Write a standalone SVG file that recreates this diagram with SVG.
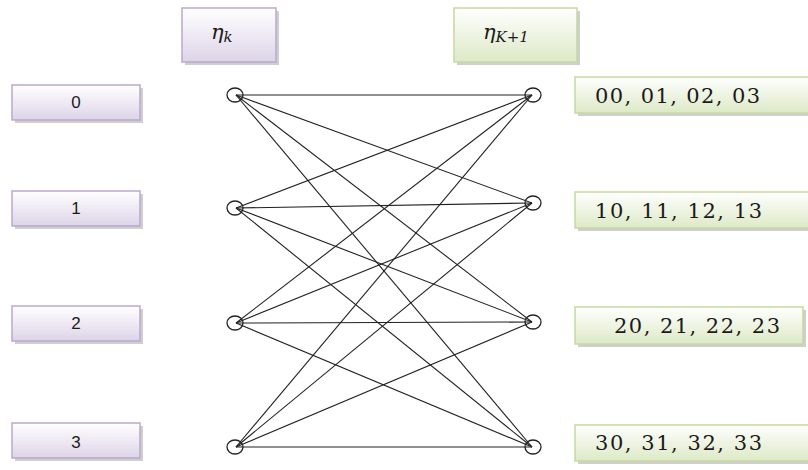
<svg xmlns="http://www.w3.org/2000/svg" width="808" height="470" viewBox="0 0 808 470">
<defs>
<linearGradient id="gp" x1="0" y1="0" x2="0" y2="1"><stop offset="0" stop-color="#ffffff"/><stop offset="1" stop-color="#ddd4e8"/></linearGradient>
<linearGradient id="gg" x1="0" y1="0" x2="0" y2="1"><stop offset="0" stop-color="#ffffff"/><stop offset="1" stop-color="#dde9c6"/></linearGradient>
</defs>
<style>
.p{fill:url(#gp);stroke:#b9a9cf;stroke-width:1.5}
.g{fill:url(#gg);stroke:#c5d9a0;stroke-width:1.5}
.sh{fill:#cfcfcf}
.n{font-family:"Liberation Sans",Arial,sans-serif;font-size:17px;fill:#1a1a1a;text-anchor:middle}
.v{font-family:"DejaVu Serif","Liberation Serif",serif;font-size:21px;fill:#1a1a1a}
.e{font-family:"DejaVu Serif","Liberation Serif",serif;font-style:italic;font-size:21px;fill:#1a1a1a}
.c{fill:none;stroke:#222;stroke-width:1.3}
.l{stroke:#222;stroke-width:1.1}
</style>
<g id="etak"><rect class="sh" x="185" y="11" width="94" height="54"/><rect class="p" x="182" y="8" width="94" height="54"/><text class="e" x="211" y="39">η<tspan font-size="15" dy="3">k</tspan></text></g>
<g id="etak1"><rect class="sh" x="457" y="11" width="123" height="54"/><rect class="g" x="454" y="8" width="123" height="54"/><text class="e" x="483" y="39">η<tspan font-size="15" dy="3">K+1</tspan></text></g>
<g id="L0"><rect class="sh" x="15" y="88" width="128" height="35"/><rect class="p" x="12" y="85" width="128" height="35"/><text class="n" x="76" y="108">0</text></g>
<g id="L1"><rect class="sh" x="15" y="194" width="128" height="35"/><rect class="p" x="12" y="191" width="128" height="35"/><text class="n" x="76" y="214">1</text></g>
<g id="L2"><rect class="sh" x="15" y="309" width="128" height="35"/><rect class="p" x="12" y="306" width="128" height="35"/><text class="n" x="76" y="329">2</text></g>
<g id="L3"><rect class="sh" x="15" y="426" width="128" height="35"/><rect class="p" x="12" y="423" width="128" height="35"/><text class="n" x="76" y="448">3</text></g>
<g id="R0"><rect class="sh" x="578" y="80" width="232" height="36"/><rect class="g" x="575" y="77" width="235" height="36"/><text class="v" x="595" y="103" textLength="165" lengthAdjust="spacing">00, 01, 02, 03</text></g>
<g id="R1"><rect class="sh" x="578" y="195" width="232" height="36"/><rect class="g" x="575" y="192" width="235" height="36"/><text class="v" x="595" y="218" textLength="167" lengthAdjust="spacing">10, 11, 12, 13</text></g>
<g id="R2"><rect class="sh" x="578" y="310" width="228" height="37"/><rect class="g" x="575" y="307" width="228" height="37"/><text class="v" x="614" y="333" textLength="166" lengthAdjust="spacing">20, 21, 22, 23</text></g>
<g id="R3"><rect class="sh" x="578" y="428" width="232" height="36"/><rect class="g" x="575" y="425" width="235" height="36"/><text class="v" x="595" y="450" textLength="167" lengthAdjust="spacing">30, 31, 32, 33</text></g>
<g id="connectors">
<line class="l" x1="236" y1="95" x2="532" y2="95"/><line class="l" x1="236" y1="95" x2="532" y2="203"/><line class="l" x1="236" y1="95" x2="532" y2="322"/><line class="l" x1="236" y1="95" x2="532" y2="447"/>
<line class="l" x1="236" y1="208" x2="532" y2="95"/><line class="l" x1="236" y1="208" x2="532" y2="203"/><line class="l" x1="236" y1="208" x2="532" y2="322"/><line class="l" x1="236" y1="208" x2="532" y2="447"/>
<line class="l" x1="236" y1="323" x2="532" y2="95"/><line class="l" x1="236" y1="323" x2="532" y2="203"/><line class="l" x1="236" y1="323" x2="532" y2="322"/><line class="l" x1="236" y1="323" x2="532" y2="447"/>
<line class="l" x1="236" y1="447" x2="532" y2="95"/><line class="l" x1="236" y1="447" x2="532" y2="203"/><line class="l" x1="236" y1="447" x2="532" y2="322"/><line class="l" x1="236" y1="447" x2="532" y2="447"/>
</g>
<g id="nodesL"><ellipse class="c" cx="235" cy="95" rx="8" ry="7"/><ellipse class="c" cx="235" cy="208" rx="8" ry="7"/><ellipse class="c" cx="235" cy="323" rx="8" ry="7"/><ellipse class="c" cx="235" cy="447" rx="8" ry="7"/></g>
<g id="nodesR"><ellipse class="c" cx="533" cy="95" rx="8" ry="7"/><ellipse class="c" cx="533" cy="203" rx="8" ry="7"/><ellipse class="c" cx="533" cy="322" rx="8" ry="7"/><ellipse class="c" cx="533" cy="447" rx="8" ry="7"/></g>
</svg>
